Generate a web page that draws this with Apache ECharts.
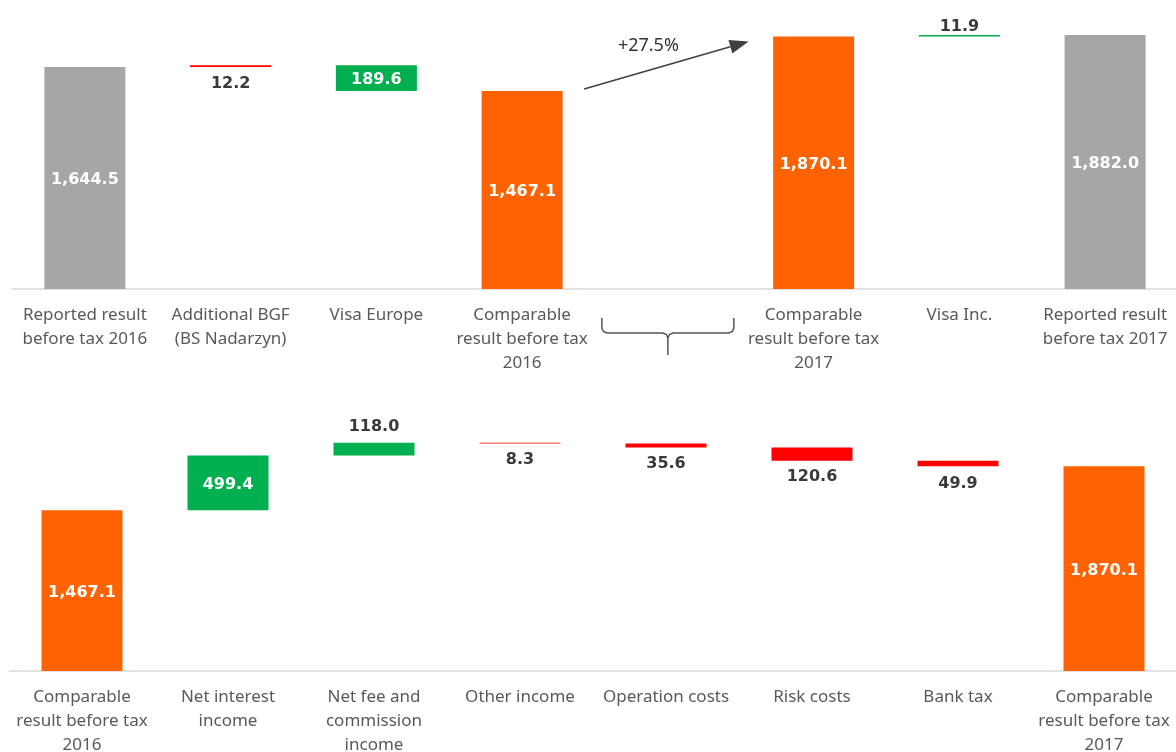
<!DOCTYPE html>
<html>
<head>
<meta charset="utf-8">
<script src="https://cdn.jsdelivr.net/npm/echarts@6/dist/echarts.min.js"></script>
<style>
  html, body { margin: 0; padding: 0; background: #fff; }
  #chart { width: 1176px; height: 752px; }
</style>
</head>
<body>
<div id="chart"></div>
<script>
// top: reported -> comparable -> reported
const topCategories = [
  'Reported result\nbefore tax 2016',
  'Additional BGF\n(BS Nadarzyn)',
  'Visa Europe',
  'Comparable\nresult before tax\n2016',
  '',
  'Comparable\nresult before tax\n2017',
  'Visa Inc.',
  'Reported result\nbefore tax 2017'
]
const topValues = [1644.5, 12.2, -189.6, 1467.1, null, 1870.1, 11.9, 1882.0]
const topTotals = [true, false, false, true, false, true, false, true]

// bottom: comparable 2016 -> comparable 2017
const bottomCategories = [
  'Comparable\nresult before tax\n2016',
  'Net interest\nincome',
  'Net fee and\ncommission\nincome',
  'Other income',
  'Operation costs',
  'Risk costs',
  'Bank tax',
  'Comparable\nresult before tax\n2017'
]
const bottomValues = [1467.1, 499.4, 118.0, -8.3, -35.6, -120.6, -49.9, 1870.1]
const bottomTotals = [true, false, false, false, false, false, false, true]

const growthLabel = '+27.5%'

// styling
const ORANGE = '#ff6200'
const GRAY = '#a6a6a6'
const GREEN = '#00b050'
const RED = '#ff0000'
const topColors = [GRAY, RED, GREEN, ORANGE, null, ORANGE, GREEN, GRAY]
const topLabelPos = ['inside', 'bottom', 'inside', 'inside', null, 'inside', 'top', 'inside']
const topLabelGap = [0, 9, 0, 0, 0, 0, 0, 0]
const bottomColors = [ORANGE, GREEN, GREEN, RED, RED, RED, RED, ORANGE]
const bottomLabelPos = ['inside', 'inside', 'top', 'bottom', 'bottom', 'bottom', 'bottom', 'inside']
const bottomLabelGap = [0, 0, 8, 8, 8, 8, 10, 0]

function waterfall(values, totals) {
  var base = []
  var height = []
  var running = 0
  values.forEach(function(v, i) {
    if (v === null) {
      base.push('-')
      height.push('-')
    } else if (totals[i]) {
      base.push(0)
      height.push(v)
      running = v
    } else if (v >= 0) {
      base.push(running)
      height.push(v)
      running += v
    } else {
      base.push(running + v)
      height.push(-v)
      running += v
    }
  })
  return { base: base, height: height }
}

function fmt(v) {
  return Math.abs(v).toLocaleString('en-US', { minimumFractionDigits: 1, maximumFractionDigits: 1 })
}

function barData(values, totals, colors, labelPos, labelGap) {
  var wf = waterfall(values, totals)
  var data = wf.height.map(function(h, i) {
    if (h === '-') return '-'
    var inside = labelPos[i] === 'inside'
    return {
      value: h,
      itemStyle: { color: colors[i] },
      label: {
        show: true,
        position: labelPos[i],
        distance: labelGap[i],
        offset: inside ? [0, 2] : [0, 0],
        color: inside ? '#ffffff' : '#3a3a3a',
        formatter: fmt(values[i])
      }
    }
  })
  return { base: wf.base, data: data }
}

const topWf = barData(topValues, topTotals, topColors, topLabelPos, topLabelGap)
const bottomWf = barData(bottomValues, bottomTotals, bottomColors, bottomLabelPos, bottomLabelGap)

const axisLabelStyle = {
  color: '#595959',
  fontFamily: 'Noto Sans',
  fontSize: 17,
  lineHeight: 24,
  margin: 14,
  interval: 0
}

const valueLabelFont = {
  fontFamily: 'DejaVu Sans',
  fontWeight: 'bold',
  fontSize: 16
}

var option = {
  animation: false,
  backgroundColor: '#ffffff',
  grid: [
    { left: 12, width: 1166, top: 19, height: 270, outerBoundsMode: 'none', containLabel: false },
    { left: 9, width: 1168, top: 430, height: 241, outerBoundsMode: 'none', containLabel: false }
  ],
  xAxis: [
    {
      type: 'category',
      gridIndex: 0,
      data: topCategories,
      axisLine: { show: true, lineStyle: { color: '#d9d9d9', width: 1.5 } },
      axisTick: { show: false },
      axisLabel: axisLabelStyle,
      splitLine: { show: false }
    },
    {
      type: 'category',
      gridIndex: 1,
      data: bottomCategories,
      axisLine: { show: true, lineStyle: { color: '#d9d9d9', width: 1.5 } },
      axisTick: { show: false },
      axisLabel: axisLabelStyle,
      splitLine: { show: false }
    }
  ],
  yAxis: [
    { type: 'value', gridIndex: 0, min: 0, max: 2000, show: false },
    { type: 'value', gridIndex: 1, min: 0, max: 2200, show: false }
  ],
  series: [
    {
      type: 'bar',
      xAxisIndex: 0,
      yAxisIndex: 0,
      stack: 'top',
      silent: true,
      itemStyle: { color: 'transparent' },
      barWidth: 81,
      data: topWf.base
    },
    {
      type: 'bar',
      xAxisIndex: 0,
      yAxisIndex: 0,
      stack: 'top',
      barWidth: 81,
      label: valueLabelFont,
      data: topWf.data
    },
    {
      type: 'bar',
      xAxisIndex: 1,
      yAxisIndex: 1,
      stack: 'bottom',
      silent: true,
      itemStyle: { color: 'transparent' },
      barWidth: 81,
      data: bottomWf.base
    },
    {
      type: 'bar',
      xAxisIndex: 1,
      yAxisIndex: 1,
      stack: 'bottom',
      barWidth: 81,
      label: valueLabelFont,
      data: bottomWf.data
    }
  ]
}

var chart = echarts.init(document.getElementById('chart'))
chart.setOption(option)

// bracket under the empty slot + growth arrow, placed from the axis scales
function annotate() {
  var px = function(c, v) { return chart.convertToPixel({ gridIndex: 0 }, [c, v]) }
  var slot = px(4, 0)
  var cx = slot[0]
  var ax = slot[1]
  var hw = 66
  var y1 = ax + 29
  var y2 = ax + 44
  var y3 = ax + 66
  var r = 5
  var bracketStyle = { stroke: '#555555', lineWidth: 1.5, fill: null }

  var from = px(3, topValues[3])
  var to = px(5, topValues[5])
  var x1 = from[0] + 62
  var yA = from[1] - 2
  var x2 = to[0] - 65
  var yB = to[1] + 5
  var ang = Math.atan2(yB - yA, x2 - x1)
  var len = 19
  var wid = 7
  var bx = x2 - len * Math.cos(ang)
  var by = yB - len * Math.sin(ang)
  var nx = -Math.sin(ang) * wid
  var ny = Math.cos(ang) * wid

  chart.setOption({
    graphic: [
      {
        type: 'polyline',
        silent: true,
        shape: {
          points: [[cx - hw, y1], [cx - hw, y2 - r], [cx - hw + 1.5, y2 - 1.5], [cx - hw + r, y2],
            [cx - r, y2], [cx - 1.5, y2 + 1.5], [cx, y2 + r], [cx, y3]]
        },
        style: bracketStyle
      },
      {
        type: 'polyline',
        silent: true,
        shape: {
          points: [[cx + hw, y1], [cx + hw, y2 - r], [cx + hw - 1.5, y2 - 1.5], [cx + hw - r, y2],
            [cx + r, y2], [cx + 1.5, y2 + 1.5], [cx, y2 + r]]
        },
        style: bracketStyle
      },
      {
        type: 'line',
        silent: true,
        shape: { x1: x1, y1: yA, x2: bx, y2: by },
        style: { stroke: '#404040', lineWidth: 1.5 }
      },
      {
        type: 'polygon',
        silent: true,
        shape: { points: [[x2, yB], [bx + nx, by + ny], [bx - nx, by - ny]] },
        style: { fill: '#404040' }
      },
      {
        type: 'text',
        silent: true,
        x: (x1 + x2) / 2 - 18,
        y: (yA + yB) / 2 - 19,
        style: {
          text: growthLabel,
          fill: '#333333',
          font: '18px "Noto Sans"',
          align: 'center',
          verticalAlign: 'middle'
        }
      }
    ]
  })
}
annotate()

window.addEventListener('resize', () => {
  chart.resize()
  annotate()
})
</script>
</body>
</html>
